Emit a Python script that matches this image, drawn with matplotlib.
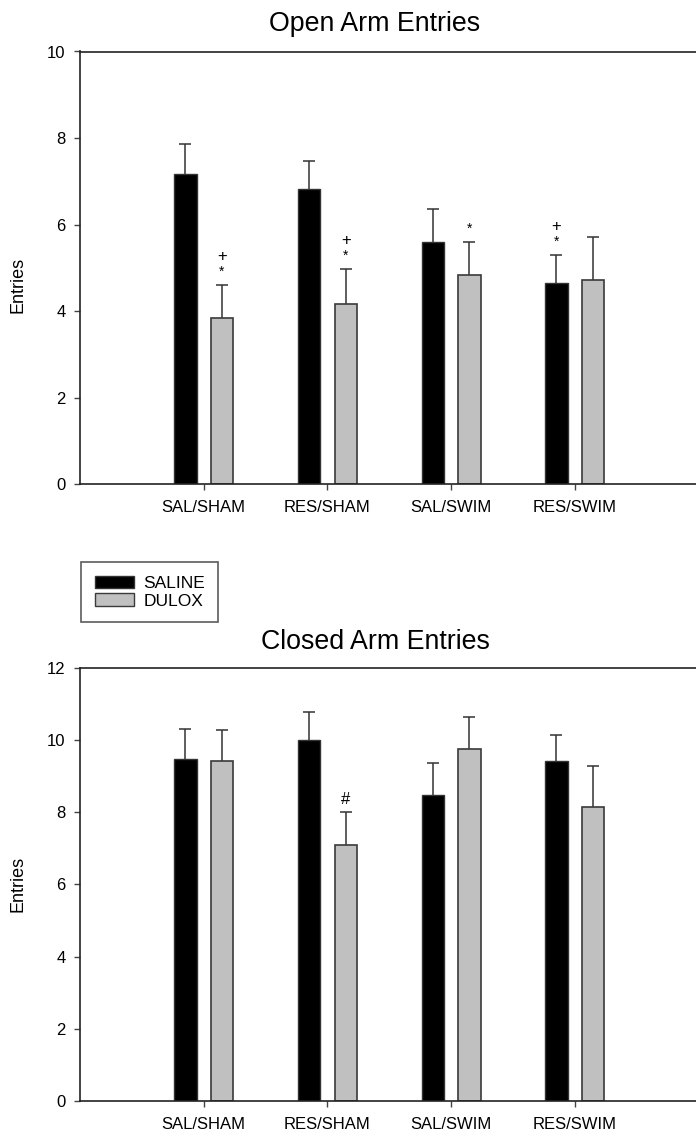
import matplotlib
matplotlib.use("Agg")
import numpy as np
import matplotlib.pyplot as plt
from matplotlib.patches import Patch

plt.rcParams['font.family'] = ['Liberation Sans', 'DejaVu Sans']

groups = ['SAL/SHAM', 'RES/SHAM', 'SAL/SWIM', 'RES/SWIM']
series = ['SALINE', 'DULOX']

# open arm entries (mean, sem)
open_saline = [7.16, 6.82, 5.59, 4.65]
open_saline_err = [0.71, 0.66, 0.77, 0.64]
open_dulox = [3.84, 4.17, 4.83, 4.72]
open_dulox_err = [0.76, 0.81, 0.77, 1.00]

# closed arm entries (mean, sem)
closed_saline = [9.48, 9.99, 8.48, 9.40]
closed_saline_err = [0.82, 0.78, 0.88, 0.73]
closed_dulox = [9.40, 7.08, 9.74, 8.14]
closed_dulox_err = [0.88, 0.91, 0.88, 1.14]

# significance marks: (group index, series, symbols)
open_marks = [(0, 'DULOX', ['*', '+']), (1, 'DULOX', ['*', '+']),
              (2, 'DULOX', ['*']), (3, 'SALINE', ['*', '+'])]
closed_marks = [(1, 'DULOX', ['#'])]

W, H = 696, 1137
fig = plt.figure(figsize=(W / 100, H / 100), dpi=100)

x = np.arange(len(groups))
off = 0.148
bw = 0.18
spine_c = '#222222'


def panel(ax, sal, sal_e, dul, dul_e, ymax, marks, title, title_y, ylab_y):
    bars = {}
    bars['SALINE'] = (x - off, np.array(sal), np.array(sal_e))
    bars['DULOX'] = (x + off, np.array(dul), np.array(dul_e))
    ax.bar(x - off, sal, bw, color='black', edgecolor='#333333', linewidth=1, zorder=2)
    ax.bar(x + off, dul, bw, color='#c0c0c0', edgecolor='#3a3a3a', linewidth=1.2, zorder=2)
    for key in series:
        xs, vals, errs = bars[key]
        # upper error bars only
        ax.vlines(xs, vals, vals + errs, color='#333333', linewidth=1.1, zorder=1)
        ax.plot(xs, vals + errs, ls='none', marker='_', markersize=8.8,
                markeredgewidth=1.1, color='#333333', zorder=1)
    for gi, key, syms in marks:
        xs, vals, errs = bars[key]
        top = vals[gi] + errs[gi]
        for k, s in enumerate(syms):
            if s == '*':
                ax.annotate(s, (xs[gi], top), xytext=(0, 9.5 + 11 * k), textcoords='offset points',
                            ha='center', va='center', fontsize=10)
            elif s == '+':
                ax.annotate(s, (xs[gi], top), xytext=(0, 9.5 + 11 * k), textcoords='offset points',
                            ha='center', va='center', fontsize=12)
            else:
                ax.annotate(s, (xs[gi], top), xytext=(0, 9), textcoords='offset points',
                            ha='center', va='center', fontsize=12)
    ax.set_xlim(-1, 4)
    ax.set_ylim(0, ymax)
    ax.set_yticks(np.arange(0, ymax + 1, 2))
    ax.set_xticks(x)
    ax.set_xticklabels(groups)
    ax.tick_params(axis='both', direction='out', length=4.5, width=1, color='#444444',
                   labelsize=12)
    ax.tick_params(axis='y', pad=6)
    ax.tick_params(axis='x', pad=7)
    for sp in ax.spines.values():
        sp.set_color(spine_c)
        sp.set_linewidth(1.2)
    ax.set_ylabel('Entries', fontsize=13)
    ax.yaxis.set_label_coords(-0.087, ylab_y)
    fig.text(375 / W, 1 - title_y / H, title, ha='center', va='center', fontsize=19.3)


ax1 = fig.add_axes([80 / W, 1 - 484.3 / H, 618.5 / W, 432.8 / H])
panel(ax1, open_saline, open_saline_err, open_dulox, open_dulox_err, 10, open_marks,
      'Open Arm Entries', 24, 0.46)

ax2 = fig.add_axes([80 / W, 1 - 1101.3 / H, 618.5 / W, 433.8 / H])
panel(ax2, closed_saline, closed_saline_err, closed_dulox, closed_dulox_err, 12, closed_marks,
      'Closed Arm Entries', 642, 0.5)

handles = [Patch(facecolor='black', edgecolor='#333333', label='SALINE'),
           Patch(facecolor='#c0c0c0', edgecolor='#3a3a3a', label='DULOX')]
leg = fig.legend(handles=handles, loc='upper left', bbox_to_anchor=(81 / W, 1 - 562 / H),
                 frameon=True, fancybox=False, fontsize=12.5, handlelength=2.3,
                 handleheight=0.75, handletextpad=0.5, labelspacing=0.14,
                 borderpad=0.78, borderaxespad=0)
leg.get_frame().set_edgecolor('#333333')
leg.get_frame().set_linewidth(1.2)

fig.savefig('out.png', dpi=100)
